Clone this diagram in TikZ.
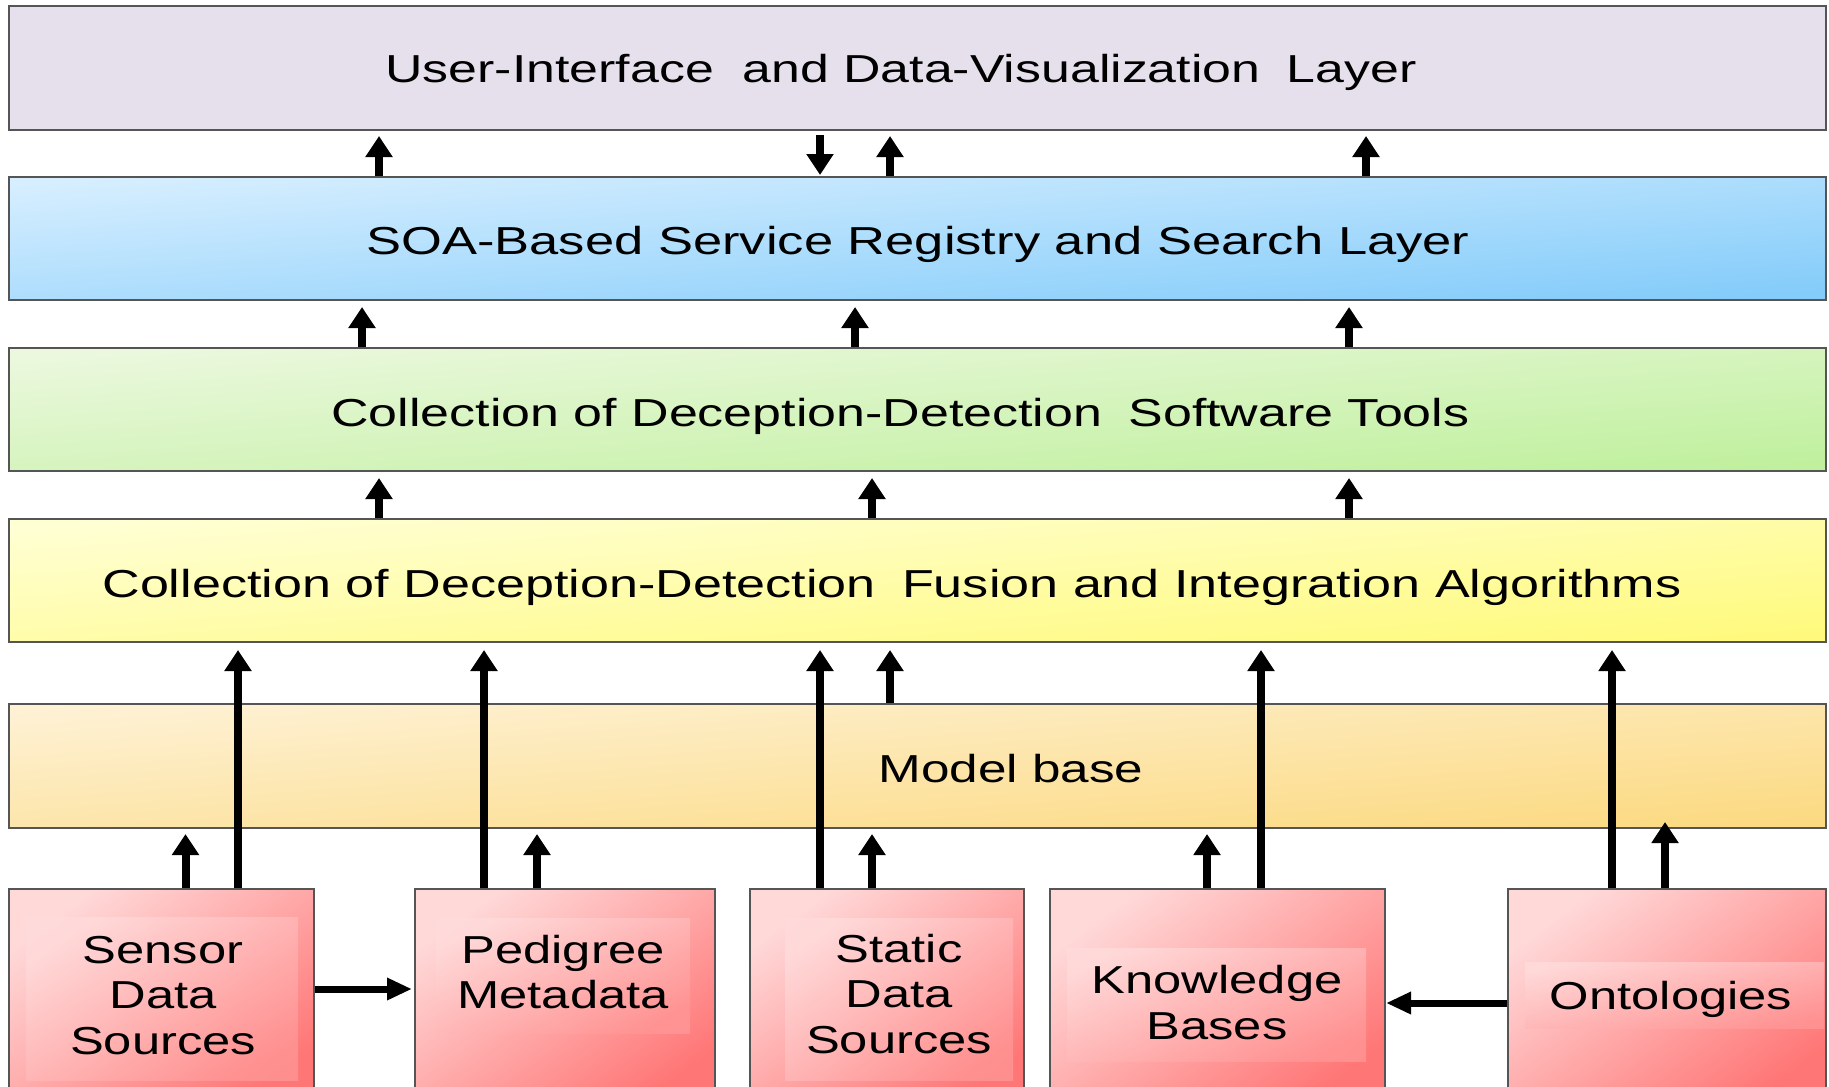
\documentclass[tikz,border=0pt]{standalone}
\usepackage{fontspec}
\setmainfont{Liberation Sans}[FakeStretch=1.3]
\usepackage{graphicx}
\usetikzlibrary{arrows.meta}
\definecolor{bordc}{RGB}{85,85,85}
\definecolor{topc}{RGB}{230,224,237}
\definecolor{blueA}{RGB}{214,238,255}
\definecolor{blueB}{RGB}{132,204,250}
\definecolor{greenA}{RGB}{235,248,222}
\definecolor{greenB}{RGB}{192,240,158}
\definecolor{yelA}{RGB}{255,255,212}
\definecolor{yelB}{RGB}{255,250,125}
\definecolor{modA}{RGB}{254,241,212}
\definecolor{modB}{RGB}{252,218,130}
\definecolor{pinkA}{RGB}{255,216,216}
\definecolor{pinkB}{RGB}{255,118,118}
\definecolor{pinkC}{RGB}{255,219,219}
\definecolor{pinkD}{RGB}{255,150,150}
\begin{document}
\begin{tikzpicture}[x=0.5pt,y=-0.5pt,
  layer/.style={draw=bordc, line width=1pt, inner sep=0pt,
    minimum width=908.5pt, minimum height=61.5pt},
  grad/.style 2 args={top color=#1, bottom color=#2, shading angle=4},
  srcbox/.style={draw=bordc, line width=1pt, inner sep=0pt,
    minimum height=110.5pt, top color=pinkA, bottom color=pinkB, shading angle=36},
  panel/.style={top color=pinkC, bottom color=pinkD, shading angle=#1, opacity=0.8},
  ltext/.style={anchor=base west, inner sep=0pt, text=black,
    font=\fontsize{19.5pt}{22.75pt}\selectfont},
  stext/.style={inner sep=0pt, align=center, text=black,
    font=\fontsize{19.5pt}{22.75pt}\selectfont},
  arr/.style={line width=4pt, -{Triangle[width=13pt,length=10.5pt]}},
  harr/.style={line width=3.5pt, -{Triangle[width=10.5pt,length=12.5pt]}}
]
\useasboundingbox (0,0) rectangle (1829,1086);
\fill[white] (0,0) rectangle (1829,1086);
\clip (0,0) rectangle (1829,1086);

% layers
\node[layer, fill=topc, minimum height=62pt] (T) at (917.5,68) {};
\node[layer, grad={blueA}{blueB}] (S) at (917.5,238.5) {};
\node[layer, grad={greenA}{greenB}] (G) at (917.5,409.5) {};
\node[layer, grad={yelA}{yelB}] (Y) at (917.5,580.5) {};
\node[layer, grad={modA}{modB}, minimum height=62pt] (M) at (917.5,766) {};

\node[ltext] (tT) at (385,83) {\resizebox{515.5pt}{\height}{User-Interface\ \ and Data-Visualization\hspace{0.3em} Layer}};
\node[ltext] (tS) at (366,254.5) {\resizebox{551.5pt}{\height}{SOA-Based Service Registry and Search Layer}};
\node[ltext] (tG) at (331,426) {\resizebox{569pt}{\height}{Collection of Deception-Detection\hspace{0.3em} Software Tools}};
\node[ltext] (tY) at (102,597) {\resizebox{789.5pt}{\height}{Collection of Deception-Detection\hspace{0.3em} Fusion and Integration Algorithms}};
\node[ltext] (tM) at (878,782) {\resizebox{132.5pt}{\height}{Model base}};

% source boxes
\node[srcbox, minimum width=152.5pt] (sen) at (161.5,999.5) {};
\node[srcbox, minimum width=150pt] (ped) at (565,999.5) {};
\node[srcbox, minimum width=137pt] (sta) at (887,999.5) {};
\node[srcbox, minimum width=167.5pt] (kb) at (1217.5,999.5) {};
\node[srcbox, minimum width=159pt] (ont) at (1667,999.5) {};

% inner lighter panels
\shade[panel=31] (26,917) rectangle (298,1080);
\shade[panel=24] (436,918) rectangle (690,1033);
\shade[panel=35] (785,918) rectangle (1013,1080);
\shade[panel=21] (1067,948) rectangle (1366,1061);
\shade[panel=12] (1525,962) rectangle (1824,1028);

\node[stext] (tsen) at (163,995.5) {Sensor\\Data\\Sources};
\node[stext] (tped) at (563,972) {Pedigree\\Metadata};
\node[stext] (tsta) at (899,994) {Static\\Data\\Sources};
\node[stext] (tkb) at (1217,1002.5) {Knowledge\\Bases};
\node[stext, anchor=base] (tont) at (1671,1009) {Ontologies};

% arrows between layers
\draw[arr, shorten >=2.5pt] (S.north -| 379,0) -- (T.south -| 379,0);
\draw[arr, shorten <=2pt, shorten >=0.5pt] (T.south -| 820,0) -- (S.north -| 820,0);
\draw[arr, shorten >=2.5pt] (S.north -| 890,0) -- (T.south -| 890,0);
\draw[arr, shorten >=2.5pt] (S.north -| 1366,0) -- (T.south -| 1366,0);

\draw[arr, shorten >=3pt] (G.north -| 362,0) -- (S.south -| 362,0);
\draw[arr, shorten >=3pt] (G.north -| 855,0) -- (S.south -| 855,0);
\draw[arr, shorten >=3pt] (G.north -| 1349,0) -- (S.south -| 1349,0);

\draw[arr, shorten >=3pt] (Y.north -| 379,0) -- (G.south -| 379,0);
\draw[arr, shorten >=3pt] (Y.north -| 872,0) -- (G.south -| 872,0);
\draw[arr, shorten >=3pt] (Y.north -| 1349,0) -- (G.south -| 1349,0);

% model base to fusion layer
\draw[arr, shorten >=3.5pt] (M.north -| 890,0) -- (Y.south -| 890,0);

% long arrows from sources to fusion layer
\draw[arr, shorten >=3.5pt] (sen.north -| 238,0) -- (Y.south -| 238,0);
\draw[arr, shorten >=3.5pt] (ped.north -| 484,0) -- (Y.south -| 484,0);
\draw[arr, shorten >=3.5pt] (sta.north -| 820,0) -- (Y.south -| 820,0);
\draw[arr, shorten >=3.5pt] (kb.north -| 1261,0) -- (Y.south -| 1261,0);
\draw[arr, shorten >=3.5pt] (ont.north -| 1612,0) -- (Y.south -| 1612,0);

% short arrows from sources to model base
\draw[arr, shorten >=2.5pt] (sen.north -| 185.5,0) -- (M.south -| 185.5,0);
\draw[arr, shorten >=2.5pt] (ped.north -| 537,0) -- (M.south -| 537,0);
\draw[arr, shorten >=2.5pt] (sta.north -| 872,0) -- (M.south -| 872,0);
\draw[arr, shorten >=2.5pt] (kb.north -| 1207,0) -- (M.south -| 1207,0);
\draw[arr, shorten >=-3.5pt] (ont.north -| 1665,0) -- (M.south -| 1665,0);

% horizontal arrows
\draw[harr, shorten >=1pt] (sen.east |- 0,989) -- (ped.west |- 0,989);
\draw[harr] (ont.west |- 0,1003) -- (kb.east |- 0,1003);
\end{tikzpicture}
\end{document}
